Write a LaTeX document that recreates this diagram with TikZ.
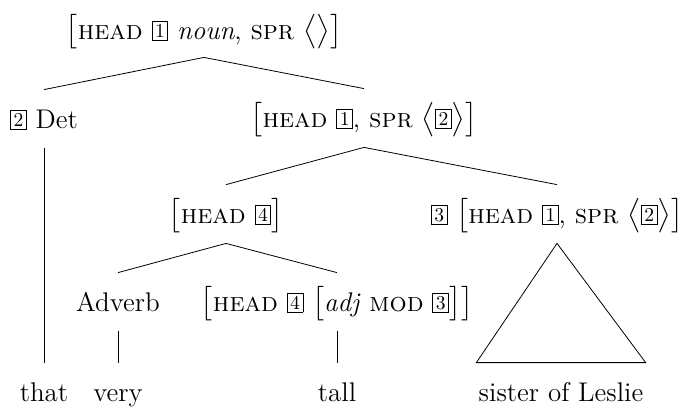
\documentclass[tikz,border=0pt]{standalone}
\usepackage{amsmath}
\usepackage{tikz}
\newcommand{\tg}[1]{{\setlength{\fboxsep}{1.3pt}\raisebox{0.8pt}{\fbox{\fontsize{9.8}{10}\selectfont #1}}}}
\newcommand{\avm}[1]{$\bigl[$#1$\bigr]$}
\newcommand{\lst}[1]{$\bigl\langle$#1$\bigr\rangle$}

\begin{document}
\begin{tikzpicture}[x=0.5pt, y=-0.5pt, font=\fontsize{13.5}{16}\selectfont,
    cat/.style={anchor=base, inner xsep=1pt, inner ysep=0pt, text height=19pt, text depth=10pt}]
  \useasboundingbox (0,0) rectangle (684,408);
  % categories
  \node[cat, text height=12pt, text depth=9pt] (np) at (204,39) {\avm{\textsc{head} \tg{1} \textit{noun}, \textsc{spr} \lst{}}};
  \node[cat] (det) at (44,128) {\tg{2} Det};
  \node[cat] (nbar) at (364,127) {\avm{\textsc{head} \tg{1}, \textsc{spr} \lst{\tg{2}}}};
  \node[cat] (ap) at (226,223) {\avm{\textsc{head} \tg{4}}};
  \node[cat] (nbar2) at (557,223) {\tg{3} \avm{\textsc{head} \tg{1}, \textsc{spr} \lst{\tg{2}}}};
  \node[cat] (adv) at (118,311) {Adverb};
  \node[cat] (adj) at (337,311) {\avm{\textsc{head} \tg{4} \avm{\textit{adj} \textsc{mod} \tg{3}}}};
  % words
  \node[cat] (that) at (44,401) {that};
  \node[cat] (very) at (118,401) {very};
  \node[cat] (tall) at (337,401) {tall};
  \node[cat] (sister) at (561,401) {sister of Leslie};
  % branches
  \draw (np.south) -- (det.north);
  \draw (np.south) -- (nbar.north);
  \draw (nbar.south) -- (ap.north);
  \draw (nbar.south) -- (nbar2.north);
  \draw (ap.south) -- (adv.north);
  \draw (ap.south) -- (adj.north);
  \draw (det.south) -- (that.north);
  \draw (adv.south) -- (very.north);
  \draw (adj.south) -- (tall.north);
  % roof over the phrase
  \draw (nbar2.south) -- (sister.north west) -- (sister.north east) -- cycle;
\end{tikzpicture}
\end{document}
